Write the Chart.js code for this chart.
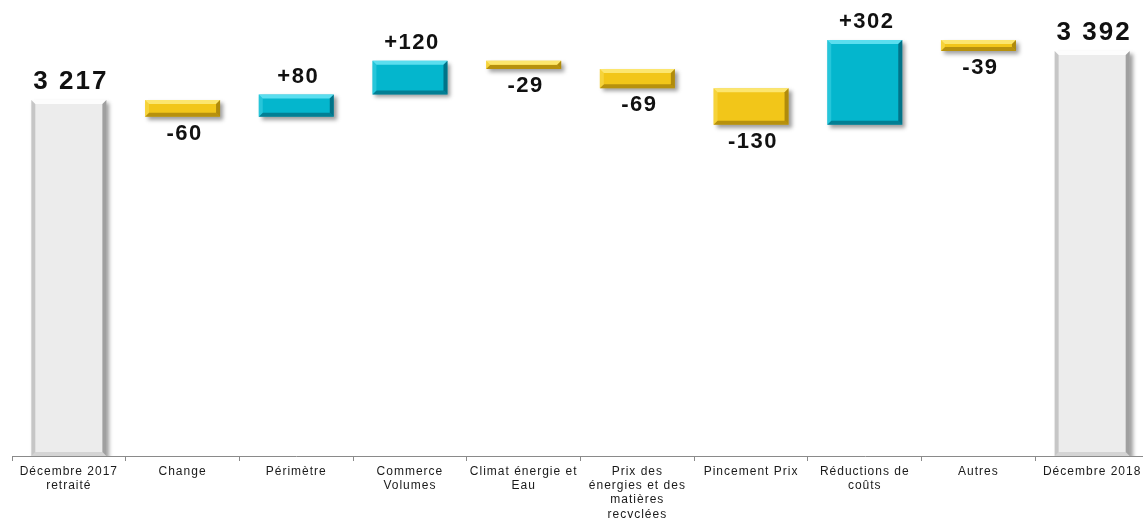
<!DOCTYPE html>
<html>
<head>
<meta charset="utf-8">
<script src="https://cdn.jsdelivr.net/npm/chart.js@4/dist/chart.umd.min.js"></script>
<style>
    html, body { margin: 0; padding: 0; background: #fff; overflow: hidden; }
    #wrap { position: relative; width: 1160px; height: 518px; }
</style>
</head>
<body>
<div id="wrap"><canvas id="chart"></canvas></div>
<script>
// Categories and values
const categories = [
    ['Décembre 2017', 'retraité'],
    'Change',
    'Périmètre',
    ['Commerce', 'Volumes'],
    ['Climat énergie et', 'Eau'],
    ['Prix des', 'énergies et des', 'matières', 'recyclées'],
    'Pincement Prix',
    ['Réductions de', 'coûts'],
    'Autres',
    'Décembre 2018'
];
const values = [3217, -60, 80, 120, -29, -69, -130, 302, -39, 3392];
const isTotal = [true, false, false, false, false, false, false, false, false, true];

const Y_MIN = 1947;
const Y_MAX = 3574;

const FONT = '"Liberation Sans", Arial, sans-serif';

// Build the floating bars of the waterfall
let running = 0;
const ranges = values.map((v, i) => {
    if (isTotal[i]) {
        running = v;
        return [Y_MIN, v];
    }
    const start = running;
    running += v;
    return [Math.min(start, running), Math.max(start, running)];
});

const kindOf = i => isTotal[i] ? 'total' : (values[i] < 0 ? 'neg' : 'pos');

const styles = {
    total: { fill: '#ececec', top: 'rgba(255,255,255,0.9)', bottom: 'rgba(0,0,0,0.10)', left: 'rgba(0,0,0,0.16)', right: 'rgba(0,0,0,0.32)' },
    neg:   { fill: '#f2c619', top: 'rgba(255,240,140,0.75)', bottom: 'rgba(110,80,0,0.45)', left: 'rgba(255,235,120,0.35)', right: 'rgba(110,80,0,0.5)' },
    pos:   { fill: '#04b6cd', top: 'rgba(120,235,250,0.75)', bottom: 'rgba(0,60,80,0.45)', left: 'rgba(120,235,250,0.3)', right: 'rgba(0,60,80,0.55)' }
};

function labelText(i) {
    const v = values[i];
    if (isTotal[i]) {
        return String(v).replace(/\B(?=(\d{3})+(?!\d))/g, ' ');
    }
    return (v > 0 ? '+' : '') + v;
}

function poly(ctx, pts, color) {
    ctx.beginPath();
    ctx.moveTo(pts[0][0], pts[0][1]);
    for (let k = 1; k < pts.length; k++) ctx.lineTo(pts[k][0], pts[k][1]);
    ctx.closePath();
    ctx.fillStyle = color;
    ctx.fill();
}

const waterfallLook = {
    id: 'waterfallLook',
    beforeDatasetsDraw(chart) {
        const ctx = chart.ctx;
        ctx.save();
        ctx.shadowColor = 'rgba(0,0,0,0.38)';
        ctx.shadowOffsetX = 3;
        ctx.shadowOffsetY = 3;
        ctx.shadowBlur = 4;
    },
    afterDatasetsDraw(chart) {
        const ctx = chart.ctx;
        ctx.restore();
        const meta = chart.getDatasetMeta(0);
        meta.data.forEach((bar, i) => {
            const st = styles[kindOf(i)];
            const l = bar.x - bar.width / 2;
            const r = bar.x + bar.width / 2;
            const t = Math.min(bar.y, bar.base);
            const b = Math.max(bar.y, bar.base);
            const s = Math.min(4, (b - t) / 2);
            ctx.save();
            poly(ctx, [[l, t], [r, t], [r - s, t + s], [l + s, t + s]], st.top);
            poly(ctx, [[l, b], [r, b], [r - s, b - s], [l + s, b - s]], st.bottom);
            poly(ctx, [[l, t], [l + s, t + s], [l + s, b - s], [l, b]], st.left);
            poly(ctx, [[r, t], [r - s, t + s], [r - s, b - s], [r, b]], st.right);
            ctx.restore();
        });

        // value labels
        ctx.save();
        ctx.fillStyle = '#111';
        ctx.textAlign = 'center';
        ctx.textBaseline = 'middle';
        meta.data.forEach((bar, i) => {
            const t = Math.min(bar.y, bar.base);
            const b = Math.max(bar.y, bar.base);
            if (isTotal[i]) {
                ctx.font = 'bold 26px ' + FONT;
                ctx.letterSpacing = '2px';
            } else {
                ctx.font = 'bold 22px ' + FONT;
                ctx.letterSpacing = '1.5px';
            }
            const y = (isTotal[i] || values[i] > 0) ? t - 18 : b + 17;
            ctx.fillText(labelText(i), bar.x + 2, y);
        });
        ctx.restore();
    }
};

// spaced-out axis text like the original
const spacing = {
    id: 'spacing',
    beforeInit(chart) { chart.ctx.letterSpacing = '1px'; },
    beforeDraw(chart) { chart.ctx.letterSpacing = '1px'; }
};

const ctx = document.getElementById('chart').getContext('2d');
new Chart(ctx, {
    type: 'bar',
    data: {
        labels: categories,
        datasets: [{
            data: ranges,
            backgroundColor: ranges.map((r, i) => styles[kindOf(i)].fill),
            borderWidth: 0,
            borderSkipped: false,
            barPercentage: 0.66,
            categoryPercentage: 1
        }]
    },
    options: {
        responsive: true,
        maintainAspectRatio: false,
        animation: false,
        layout: { padding: { left: 12, right: 11, top: 0, bottom: 0 } },
        plugins: {
            legend: { display: false },
            tooltip: { enabled: false }
        },
        scales: {
            x: {
                offset: true,
                grid: {
                    display: true,
                    drawOnChartArea: false,
                    drawTicks: true,
                    tickLength: 5,
                    color: '#8a8a8a',
                    offset: true
                },
                border: { display: true, color: '#8a8a8a', width: 1 },
                ticks: {
                    color: '#1a1a1a',
                    font: { family: FONT, size: 12, lineHeight: 1.2 },
                    padding: 3,
                    maxRotation: 0,
                    minRotation: 0,
                    autoSkip: false
                },
                afterFit(scale) { scale.height = 62; }
            },
            y: {
                display: false,
                min: Y_MIN,
                max: Y_MAX
            }
        }
    },
    plugins: [spacing, waterfallLook]
});
</script>
</body>
</html>
